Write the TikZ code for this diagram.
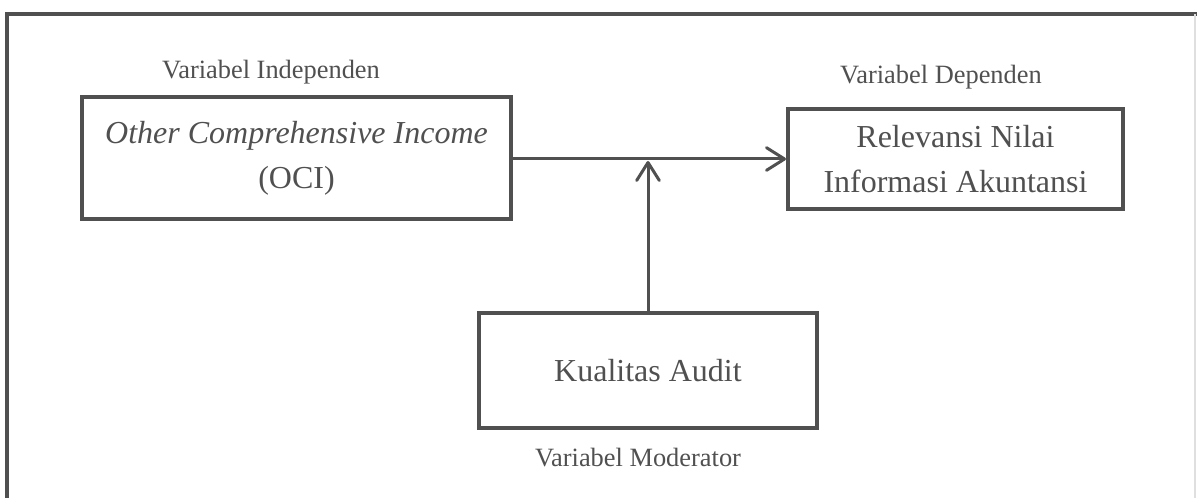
\documentclass[tikz,border=0pt]{standalone}
\usepackage{fontspec}
\setmainfont{Liberation Serif}
\usetikzlibrary{arrows.meta,positioning}
\definecolor{ink}{RGB}{80,80,80}
\begin{document}
\begin{tikzpicture}[x=0.75pt,y=-0.75pt,
    main/.style = {draw=ink, line width=3pt, rectangle, align=center, text=ink,
                   font=\fontsize{24}{33.75}\selectfont, inner sep=0pt},
    lbl/.style = {text=ink, font=\fontsize{19.8}{24}\selectfont, inner sep=0pt},
    link/.style = {draw=ink, line width=2.25pt, -{Straight Barb[round,length=13.5pt,width=17pt]}}]
    \useasboundingbox (0,0) rectangle (1197,498);
    \draw[ink, line width=3.4pt] (7,498) -- (7,14) -- (1197,14);
    \draw[gray!25, line width=0.8pt] (1195,14) -- (1195,498);

    \node[main, minimum width=429*0.75pt, minimum height=122*0.75pt] (oci) at (296.5,158)
        {\textit{Other Comprehensive Income}\\(OCI)};
    \node[main, minimum width=335*0.75pt, minimum height=100*0.75pt] (rni) at (955.5,159)
        {Relevansi Nilai\\Informasi Akuntansi};
    \node[main, minimum width=338*0.75pt, minimum height=115*0.75pt] (ka) at (648,370.5)
        {Kualitas Audit};

    \node[lbl] (l1) at (271,72) {Variabel Independen};
    \node[lbl] (l2) at (941,77) {Variabel Dependen};
    \node[lbl] (l3) at (638,458) {Variabel Moderator};

    \coordinate (m) at (648,159);
    \draw[link] (oci.east |- m) -- (rni.west |- m);
    \draw[link] (ka.north) -- ([yshift=-1.5pt]m);
\end{tikzpicture}
\end{document}
